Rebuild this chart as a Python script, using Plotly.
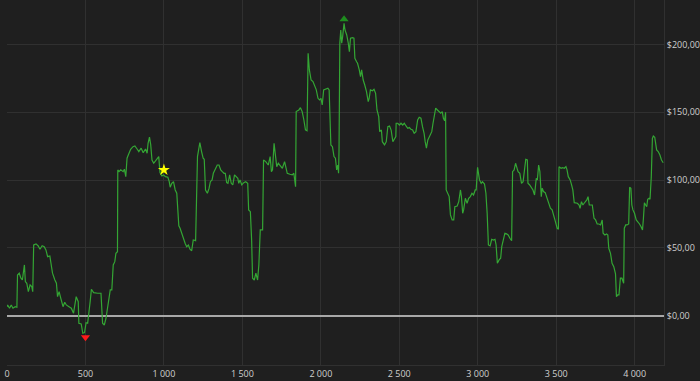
import plotly.graph_objects as go

# ---- data ----
x_vals = [0, 4, 16, 27, 38, 52, 63, 67, 78, 88, 98, 111, 117, 126, 136, 147, 158, 164, 170, 185,
          199, 210, 224, 237, 248, 259, 273, 284, 290, 305, 315, 322, 332, 340, 349, 357, 368, 378, 395, 410,
          424, 441, 454, 458, 473, 483, 494, 504, 514, 521, 530, 538, 552, 578, 599, 609, 620, 631, 641, 658,
          668, 677, 687, 694, 704, 706, 714, 725, 740, 748, 757, 765, 773, 788, 803, 815, 830, 840, 855, 868,
          883, 893, 899, 908, 916, 924, 935, 946, 956, 967, 975, 987, 998, 1009, 1025, 1034, 1040, 1050, 1061, 1072,
          1082, 1088, 1095, 1103, 1113, 1124, 1135, 1145, 1156, 1166, 1177, 1187, 1202, 1214, 1229, 1240, 1250, 1257, 1265, 1277,
          1288, 1296, 1307, 1315, 1328, 1340, 1351, 1362, 1372, 1383, 1391, 1400, 1408, 1419, 1429, 1439, 1450, 1460, 1471, 1477,
          1485, 1496, 1509, 1521, 1534, 1540, 1551, 1559, 1565, 1576, 1586, 1597, 1605, 1614, 1629, 1635, 1649, 1665, 1677, 1685,
          1692, 1702, 1711, 1719, 1729, 1744, 1755, 1769, 1776, 1786, 1803, 1818, 1828, 1839, 1843, 1860, 1870, 1881, 1892, 1902,
          1912, 1919, 1927, 1938, 1950, 1961, 1971, 1982, 1992, 2001, 2009, 2018, 2034, 2045, 2053, 2059, 2064, 2074, 2084, 2093,
          2101, 2108, 2113, 2116, 2121, 2127, 2133, 2139, 2148, 2154, 2165, 2175, 2182, 2189, 2202, 2211, 2217, 2228, 2234, 2245,
          2253, 2260, 2270, 2280, 2291, 2302, 2308, 2316, 2329, 2339, 2349, 2358, 2369, 2375, 2386, 2392, 2400, 2406, 2417, 2427,
          2438, 2448, 2459, 2469, 2478, 2480, 2490, 2501, 2511, 2522, 2532, 2543, 2554, 2564, 2574, 2585, 2595, 2606, 2617, 2627,
          2638, 2648, 2658, 2665, 2673, 2682, 2690, 2699, 2707, 2715, 2724, 2732, 2743, 2753, 2764, 2774, 2781, 2789, 2795, 2799,
          2810, 2818, 2826, 2837, 2847, 2854, 2869, 2879, 2890, 2896, 2904, 2910, 2921, 2932, 2942, 2953, 2963, 2973, 2984, 2990,
          2999, 3005, 3011, 3022, 3030, 3043, 3052, 3060, 3068, 3079, 3089, 3100, 3110, 3117, 3125, 3136, 3146, 3153, 3163, 3173,
          3184, 3194, 3205, 3216, 3222, 3232, 3241, 3249, 3257, 3268, 3279, 3289, 3299, 3306, 3316, 3320, 3331, 3342, 3352, 3362,
          3373, 3380, 3388, 3396, 3405, 3411, 3419, 3430, 3442, 3453, 3463, 3474, 3484, 3495, 3506, 3514, 3518, 3531, 3541, 3552,
          3562, 3569, 3577, 3589, 3598, 3606, 3615, 3625, 3635, 3646, 3652, 3661, 3670, 3678, 3686, 3695, 3703, 3711, 3720, 3730,
          3741, 3751, 3761, 3772, 3783, 3793, 3799, 3810, 3821, 3829, 3835, 3846, 3856, 3867, 3878, 3884, 3892, 3900, 3909, 3919,
          3930, 3934, 3943, 3951, 3962, 3968, 3976, 3982, 3989, 3999, 4010, 4020, 4031, 4041, 4050, 4056, 4062, 4070, 4077, 4083,
          4092, 4098, 4106, 4113, 4119, 4128, 4140, 4150, 4161, 4171, 4182]

y_vals = [6.6, 7.9, 5.5, 7.9, 5.5, 6.6, 6.2, 30.0, 31.3, 27.8, 26.3, 37.4, 25.1, 23.9, 17.7, 22.6, 21.4, 17.7, 52.1, 52.9,
          51.4, 49.0, 51.6, 50.9, 48.5, 43.5, 44.0, 37.4, 31.3, 26.3, 23.9, 14.0, 17.7, 14.0, 9.1, 6.6, 9.9, 7.9, 6.6, 5.5,
          1.8, 14.0, 10.3, -5.6, -6.1, -13.0, -12.5, -5.2, -5.6, 4.2, 10.3, 19.5, 17.0, 16.5, 16.5, -5.6, -6.9, -1.9, 5.5, 19.0,
          19.0, 37.4, 39.8, 46.0, 47.2, 107.5, 106.2, 107.5, 106.2, 108.0, 102.5, 116.1, 118.5, 122.7, 124.6, 125.2, 122.7, 121.0, 123.5, 120.2,
          122.9, 119.8, 127.1, 131.6, 125.9, 114.8, 112.4, 114.3, 116.1, 117.3, 105.5, 103.0, 103.8, 102.5, 102.1, 98.8, 94.7, 97.6, 98.8, 92.7,
          90.3, 78.0, 66.2, 64.5, 60.8, 55.8, 53.4, 50.9, 52.1, 49.0, 47.9, 55.8, 55.3, 117.3, 127.6, 121.0, 116.1, 115.3, 92.7, 90.3,
          94.0, 98.8, 100.1, 105.0, 108.7, 111.1, 111.1, 107.5, 106.2, 105.0, 105.0, 98.1, 97.6, 103.8, 97.6, 96.4, 103.8, 102.5, 101.3, 97.6,
          100.1, 96.4, 98.1, 98.8, 97.6, 78.0, 76.7, 55.8, 27.6, 26.3, 31.3, 26.3, 37.4, 63.2, 63.2, 114.8, 113.6, 111.1, 117.3, 106.2,
          107.5, 127.1, 117.3, 109.9, 112.4, 109.9, 108.7, 113.6, 109.9, 105.0, 104.3, 103.8, 105.0, 95.1, 150.5, 151.7, 153.4, 150.5, 144.3, 137.0,
          136.4, 193.5, 181.2, 173.8, 172.6, 169.4, 166.5, 160.3, 159.1, 160.3, 155.4, 166.5, 167.0, 167.7, 166.5, 144.3, 125.9, 124.6, 117.3, 116.1,
          107.5, 111.1, 105.0, 122.2, 200.9, 210.7, 200.9, 205.8, 215.6, 210.7, 207.0, 200.9, 194.7, 204.6, 205.0, 204.6, 189.8, 187.3, 186.1, 181.2,
          176.3, 181.2, 173.8, 170.1, 165.2, 157.8, 160.3, 166.5, 165.9, 167.0, 164.0, 151.7, 146.8, 135.7, 136.9, 128.3, 127.1, 125.9, 128.3, 139.4,
          139.9, 136.9, 128.3, 130.8, 132.0, 141.9, 141.9, 140.6, 141.9, 140.6, 141.9, 139.9, 138.2, 138.7, 137.5, 137.0, 134.5, 135.7, 144.3, 146.3,
          145.6, 139.4, 134.5, 128.3, 123.5, 129.6, 131.6, 134.5, 135.7, 141.9, 146.8, 153.0, 151.7, 150.5, 149.3, 150.5, 145.6, 143.8, 150.0, 92.7,
          90.3, 87.8, 74.3, 70.6, 70.6, 80.4, 80.9, 84.1, 92.7, 87.8, 75.5, 78.0, 86.6, 82.9, 86.6, 87.8, 90.3, 89.0, 92.7, 92.7,
          109.4, 103.8, 100.1, 97.6, 98.8, 97.1, 90.3, 75.5, 52.1, 51.4, 56.3, 55.8, 56.3, 52.1, 38.6, 41.1, 42.3, 50.9, 57.1, 60.8,
          60.3, 59.5, 57.1, 55.3, 106.2, 107.5, 112.4, 109.9, 106.2, 105.0, 97.6, 98.8, 109.9, 115.3, 114.8, 97.6, 96.4, 94.0, 92.7, 89.0,
          101.3, 100.1, 111.1, 106.2, 87.8, 94.0, 91.5, 90.7, 86.6, 84.1, 79.2, 78.0, 73.0, 69.3, 64.5, 63.7, 109.9, 108.7, 109.2, 108.7,
          109.9, 107.5, 102.5, 100.1, 96.4, 92.7, 83.3, 83.3, 82.9, 81.6, 79.2, 84.1, 81.6, 82.9, 84.1, 85.3, 87.8, 81.6, 81.6, 81.6,
          71.8, 70.6, 67.6, 67.6, 66.9, 70.6, 60.8, 59.5, 60.3, 59.5, 49.7, 46.0, 38.6, 36.1, 30.8, 14.0, 15.3, 15.3, 27.6, 27.6,
          23.9, 64.5, 66.9, 66.9, 67.6, 94.7, 94.0, 81.6, 78.0, 75.5, 70.6, 69.3, 67.6, 65.6, 63.2, 71.8, 83.3, 81.6, 80.4, 85.8,
          86.6, 85.8, 102.5, 130.8, 132.5, 131.6, 122.2, 121.0, 118.5, 114.8, 112.8]

star_x = [1000]
star_y = [107.5]

x_ticks = [0, 500, 1000, 1500, 2000, 2500, 3000, 3500, 4000]
y_ticks = [0, 50, 100, 150, 200]
y_tick_labels = ["$" + f"{v:,.2f}".replace(",", " ").replace(".", ",") for v in y_ticks]
x_tick_labels = [f"{v:,d}".replace(",", " ") for v in x_ticks]

# ---- styling ----
BG = "#1f1f1f"
GRID = "#303030"
TEXT = "#cfcfcf"
LINE = "#34a634"

imax = max(range(len(y_vals)), key=lambda i: y_vals[i])
imin = min(range(len(y_vals)), key=lambda i: y_vals[i])
marker_offset = 3.0  # data-unit offset so the arrows sit just beyond the extremes

fig = go.Figure()
fig.add_trace(go.Scatter(x=x_vals, y=y_vals, mode="lines",
                         line=dict(color=LINE, width=1.2), hoverinfo="skip"))
fig.add_trace(go.Scatter(x=[x_vals[imax]], y=[y_vals[imax] + marker_offset], mode="markers",
                         marker=dict(symbol="triangle-up", size=8, color="#1e8c1e")))
fig.add_trace(go.Scatter(x=[x_vals[imin] + 17], y=[y_vals[imin] - marker_offset], mode="markers",
                         marker=dict(symbol="triangle-down", size=8, color="#ff1a1a")))
fig.add_trace(go.Scatter(x=star_x, y=star_y, mode="markers",
                         marker=dict(symbol="star", size=9, color="#ffff00")))

fig.update_layout(
    width=700, height=381,
    margin=dict(l=7, r=30, t=0, b=16),
    paper_bgcolor=BG, plot_bgcolor=BG,
    showlegend=False,
    font=dict(family="Open Sans", size=9, color=TEXT),
)
fig.update_xaxes(
    range=[0, 4187], tickvals=x_ticks, ticktext=x_tick_labels,
    showgrid=True, gridcolor=GRID, gridwidth=1,
    showline=True, linecolor=GRID, linewidth=1, mirror=False,
    zeroline=False, ticks="", tickfont=dict(size=9, color=TEXT),
)
fig.update_yaxes(
    range=[-36.4, 232.8], tickvals=y_ticks, ticktext=y_tick_labels,
    side="right", showgrid=True, gridcolor=GRID, gridwidth=1,
    showline=True, linecolor=GRID, linewidth=1,
    zeroline=True, zerolinecolor="#a8a8a8", zerolinewidth=1.5,
    ticks="", tickfont=dict(size=9, color=TEXT),
)

fig.write_html("out.html")
